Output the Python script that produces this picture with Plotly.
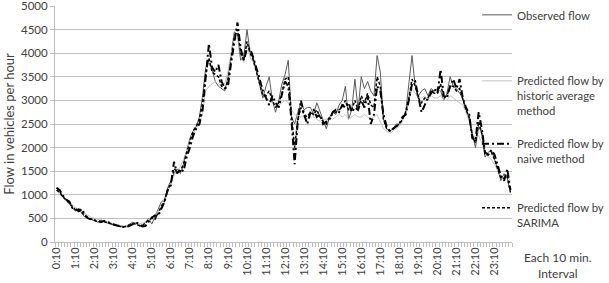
import plotly.graph_objects as go

# 10-minute intervals from 0:10 to 24:00 (144 categories)
tick_labels = ["0:10", "1:10", "2:10", "3:10", "4:10", "5:10", "6:10", "7:10",
               "8:10", "9:10", "10:10", "11:10", "12:10", "13:10", "14:10", "15:10",
               "16:10", "17:10", "18:10", "19:10", "20:10", "21:10", "22:10", "23:10"]

observed = [
    1150, 1050, 950, 900, 800, 720,
    650, 720, 600, 520, 500, 480,
    450, 420, 470, 430, 400, 380,
    360, 340, 330, 320, 340, 380,
    420, 400, 330, 340, 420, 500,
    380, 550, 700, 850, 900, 1150,
    1300, 1450, 1550, 1450, 1650, 1900,
    2200, 2350, 2450, 2650, 3100, 3700,
    3800, 3650, 3400, 3300, 3250, 3200,
    3500, 4000, 4450, 4400, 3850, 3950,
    4500, 4000, 3900, 3600, 3300, 3050,
    3300, 3500, 3000, 2750, 3000, 3350,
    3550, 3850, 2650, 2500, 2750, 2950,
    2800, 2850, 2850, 2700, 2950, 2750,
    2550, 2400, 2650, 2750, 2700, 2900,
    3000, 3300, 2600, 2800, 3450, 2800,
    3500, 3250, 3400, 3200, 3100, 3950,
    3600, 2600, 2400, 2350, 2400, 2500,
    2500, 2600, 2750, 3300, 3950, 3300,
    3100, 3200, 3250, 3100, 3250, 3200,
    3250, 3200, 3000, 3150, 3500, 3300,
    3250, 3150, 3050, 2800, 2600, 2300,
    2000, 2450, 2300, 1800, 1900, 1950,
    1750, 1550, 1300, 1450, 1350, 1050,
]

historic = [
    1100, 1000, 930, 880, 820, 780,
    720, 680, 640, 600, 560, 520,
    500, 480, 460, 440, 420, 400,
    380, 360, 350, 340, 340, 350,
    360, 370, 380, 400, 430, 470,
    520, 580, 650, 760, 900, 1050,
    1250, 1400, 1500, 1600, 1750, 1950,
    2150, 2300, 2400, 2500, 2750, 3200,
    3300, 3350, 3400, 3350, 3300, 3350,
    3600, 4000, 4350, 4300, 4000, 3800,
    4200, 3900, 3800, 3600, 3400, 3200,
    3050, 3000, 2950, 2900, 2900, 2950,
    3000, 2950, 2800, 2700, 2650, 2650,
    2650, 2600, 2650, 2650, 2600, 2550,
    2600, 2600, 2650, 2600, 2650, 2700,
    2650, 2700, 2600, 2650, 2700, 2650,
    2650, 2700, 2650, 2600, 2650, 2700,
    2550, 2400, 2350, 2300, 2350, 2400,
    2450, 2550, 2750, 3000, 3250, 3150,
    3050, 3050, 3100, 3000, 3100, 3050,
    3050, 3100, 3000, 3000, 3100, 3050,
    3000, 2950, 2900, 2750, 2550, 2300,
    2200, 2250, 2100, 1900, 1800, 1750,
    1650, 1500, 1400, 1350, 1400, 1300,
]

naive = [
    1150, 1100, 980, 900, 860, 720,
    700, 650, 700, 560, 500, 480,
    470, 440, 420, 450, 420, 390,
    370, 350, 330, 320, 320, 340,
    380, 410, 390, 330, 340, 420,
    520, 560, 550, 700, 850, 1100,
    1200, 1700, 1450, 1550, 1500, 1800,
    2000, 2250, 2400, 2500, 2800, 3500,
    4200, 3700, 3600, 3750, 3400, 3250,
    3300, 3800, 4200, 4650, 4100, 3850,
    4100, 4100, 3900, 3700, 3450, 3200,
    3050, 2900, 3100, 2950, 2850, 3100,
    3400, 3300, 2600, 1650, 2550, 3000,
    2700, 2500, 2750, 2800, 2650, 2700,
    2500, 2550, 2600, 2750, 2800, 2750,
    2900, 2850, 2950, 2750, 2850, 2800,
    3000, 2850, 3100, 2500, 2700, 3300,
    3200, 2700, 2450, 2350, 2400, 2450,
    2500, 2650, 2700, 3000, 3350, 3400,
    3050, 2750, 2900, 3050, 3150, 3250,
    3150, 3650, 3100, 3050, 3300, 3450,
    3250, 3450, 3050, 2850, 2700, 2200,
    2150, 2750, 2400, 1900, 1850, 1950,
    1850, 1600, 1400, 1300, 1550, 1100,
]

sarima = [
    1100, 1050, 960, 890, 830, 740,
    680, 690, 620, 560, 510, 490,
    460, 430, 440, 430, 410, 390,
    360, 340, 330, 320, 330, 360,
    390, 380, 350, 350, 400, 470,
    500, 480, 600, 760, 860, 1100,
    1250, 1550, 1500, 1500, 1650, 1900,
    2150, 2350, 2450, 2600, 2950, 3550,
    3900, 3600, 3550, 3500, 3300, 3250,
    3400, 3900, 4350, 4500, 4000, 3850,
    4250, 4000, 3850, 3600, 3350, 3100,
    3100, 3200, 3000, 2850, 2950, 3150,
    3450, 3500, 2700, 2000, 2600, 2850,
    2700, 2650, 2750, 2700, 2800, 2650,
    2550, 2500, 2650, 2700, 2750, 2800,
    2850, 3000, 2800, 2800, 3000, 2800,
    3100, 2950, 3150, 2900, 2850, 3500,
    3300, 2600, 2400, 2350, 2400, 2450,
    2500, 2600, 2750, 3050, 3450, 3300,
    3050, 2950, 3050, 3050, 3200, 3150,
    3150, 3350, 3050, 3100, 3300, 3300,
    3200, 3250, 3000, 2800, 2650, 2250,
    2100, 2550, 2300, 1850, 1850, 1900,
    1750, 1550, 1350, 1350, 1400, 1050,
]

x_idx = list(range(len(observed)))
tick_pos = [6 * k for k in range(len(tick_labels))]

FONT = "Lato"
fig = go.Figure()
fig.add_trace(go.Scatter(x=x_idx, y=observed, mode="lines", name="Observed flow",
                         line=dict(color="#5a5a5a", width=1), legend="legend", showlegend=True))
fig.add_trace(go.Scatter(x=x_idx, y=historic, mode="lines",
                         name="Predicted flow by<br>historic average<br>method",
                         line=dict(color="#c4c4c4", width=1), legend="legend2", showlegend=True))
fig.add_trace(go.Scatter(x=x_idx, y=naive, mode="lines",
                         name="Predicted flow by<br>naive method",
                         line=dict(color="#000000", width=2, dash="7px,3px,2px,3px"),
                         legend="legend3", showlegend=True))
fig.add_trace(go.Scatter(x=x_idx, y=sarima, mode="lines",
                         name="Predicted flow by<br>SARIMA",
                         line=dict(color="#000000", width=1.5, dash="3px,2px"),
                         legend="legend4", showlegend=True))

H, W = 283, 609
L, R, T, B = 55, 97, 6, 41
plot_h = H - T - B
plot_w = W - L - R

def py(p):
    return (H - B - p) / plot_h

def px(p):
    return (p - L) / plot_w

leg_common = dict(font=dict(family=FONT, size=11.3, color="#404040"), bgcolor="rgba(0,0,0,0)",
                  xanchor="left", yanchor="top", valign="top", itemwidth=30,
                  tracegroupgap=0)
lx = px(477)

fig.update_layout(
    width=W, height=H, showlegend=True,
    margin=dict(l=L, r=R, t=T, b=B, autoexpand=False),
    paper_bgcolor="white", plot_bgcolor="white",
    font=dict(family=FONT, size=11, color="#404040"),
    legend=dict(x=lx, y=py(1), **leg_common),
    legend2=dict(x=lx, y=py(67), **leg_common),
    legend3=dict(x=lx, y=py(130), **leg_common),
    legend4=dict(x=lx, y=py(194), **leg_common),
    xaxis=dict(range=[-0.5, len(observed) - 0.5], tickmode="array", tickvals=tick_pos,
               ticktext=tick_labels, tickangle=-90, showgrid=False, zeroline=False,
               automargin=False,
               showline=True, linecolor="#bfbfbf", linewidth=1, ticks="",
               tickfont=dict(family=FONT, size=11, color="#404040"),
               minor=dict(ticks="outside", tickmode="linear", tick0=-0.5, dtick=1,
                          ticklen=4, tickcolor="#bfbfbf", tickwidth=1, showgrid=False)),
    yaxis=dict(range=[0, 5000], tickmode="linear", tick0=0, dtick=500,
               showgrid=True, gridcolor="#c0c0c0", gridwidth=1.3,
               zeroline=False, showline=True, linecolor="#bfbfbf", linewidth=1,
               automargin=False, ticklabeloverflow="allow",
               ticks="outside", ticklen=4, tickcolor="#bfbfbf",
               tickfont=dict(family=FONT, size=11.5, color="#404040"),
               title=dict(text="Flow in vehicles per hour", font=dict(family=FONT, size=13, color="#404040"),
                          standoff=3)),
    annotations=[dict(text="Each 10 min.<br>Interval", xref="paper", yref="paper",
                      x=px(558), y=py(265), xanchor="center", yanchor="middle",
                      showarrow=False, font=dict(family=FONT, size=12, color="#404040"))],
)

fig.write_html("out.html", config={"displayModeBar": False},
               post_script="document.body.style.margin='0px';document.body.style.padding='0px';")
